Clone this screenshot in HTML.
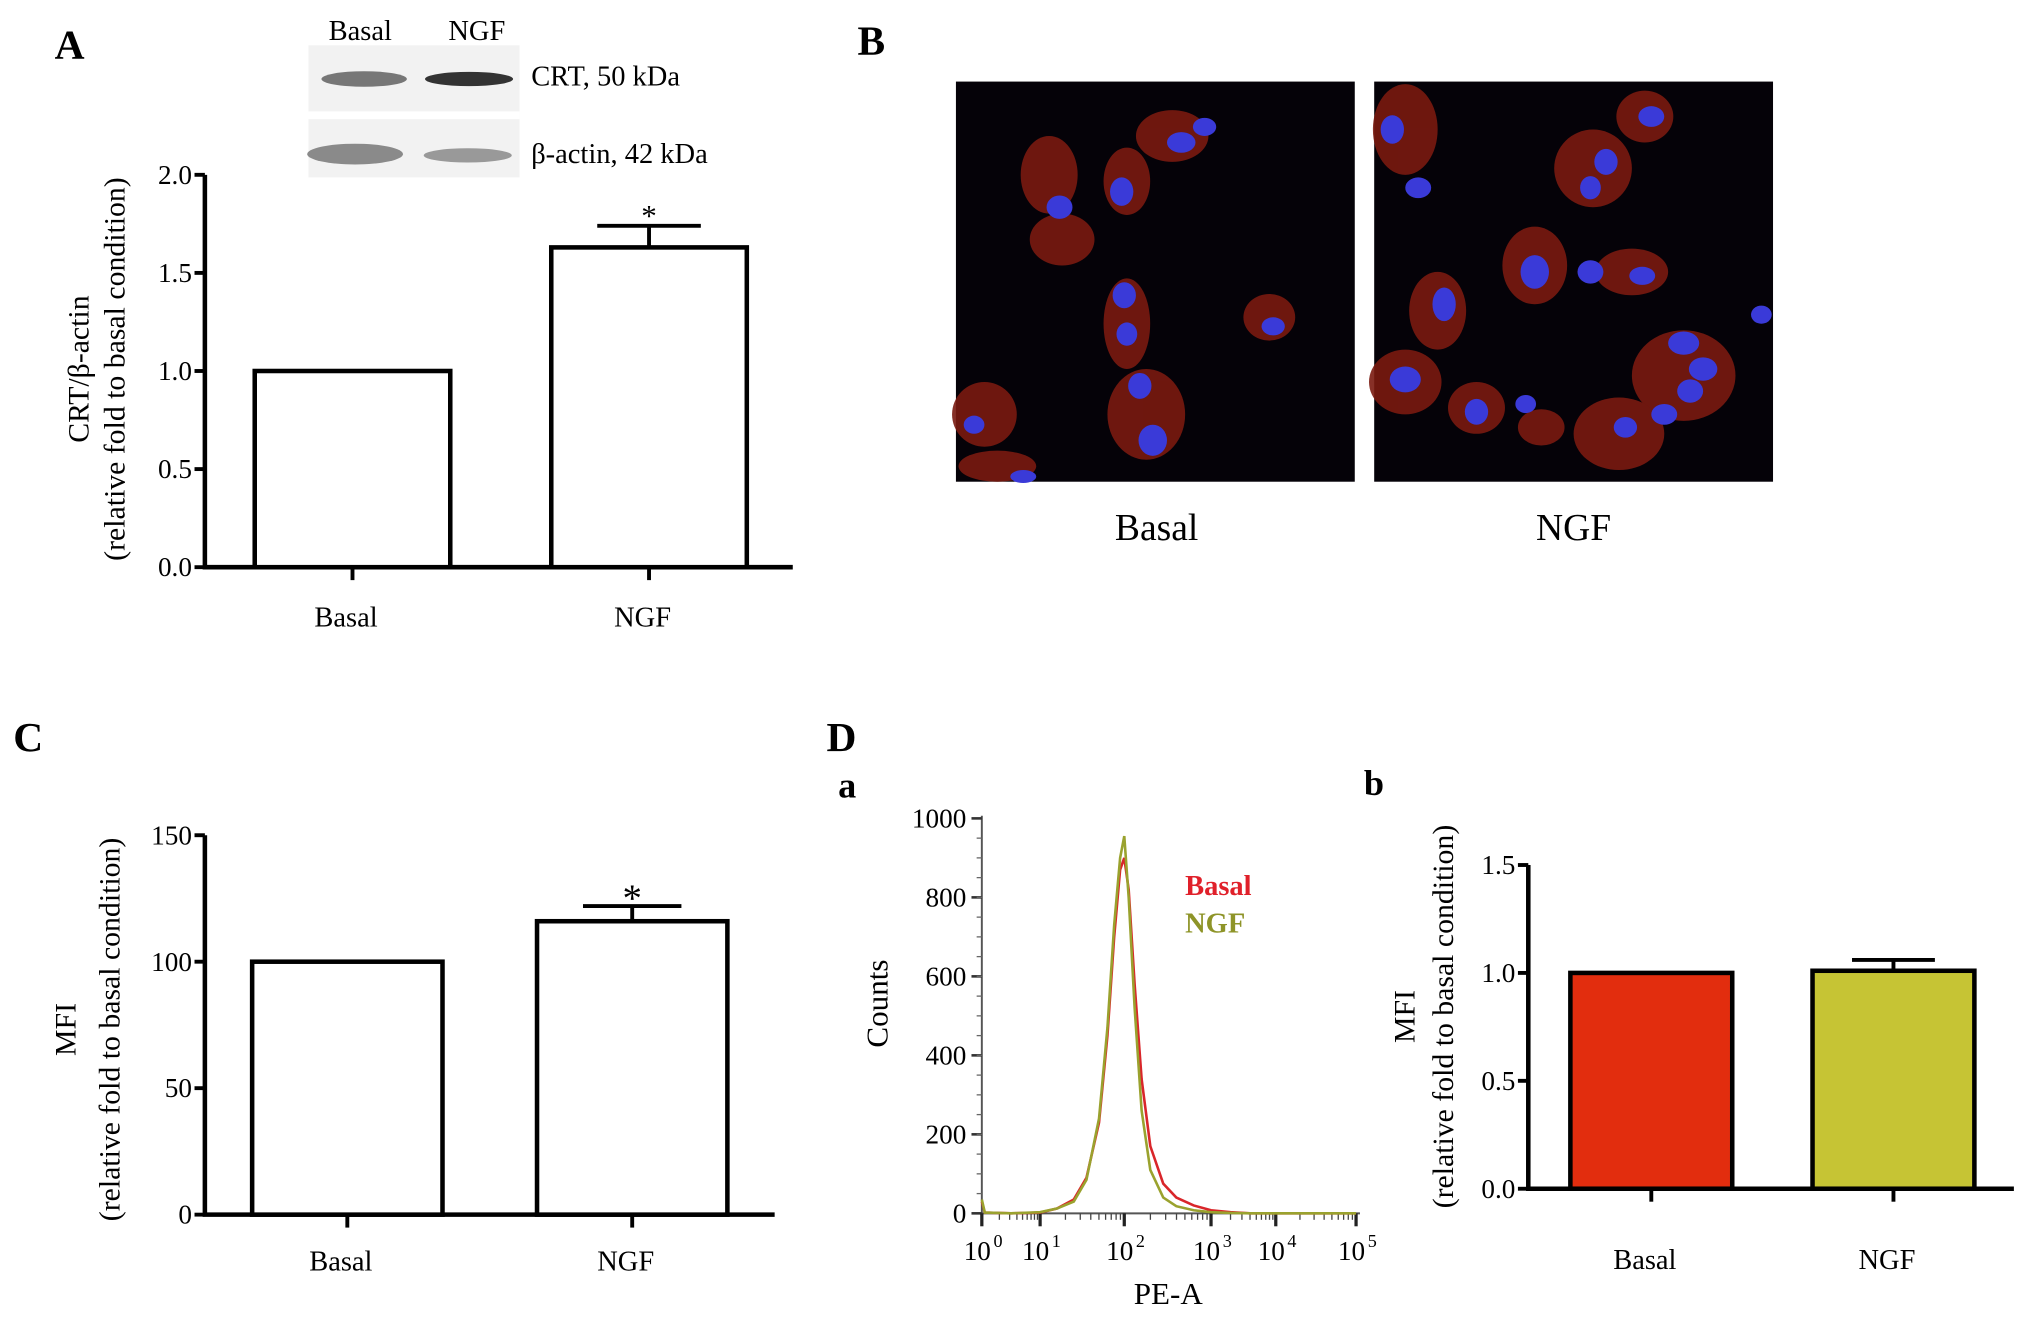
<!DOCTYPE html>
<html><head><meta charset="utf-8"><style>
html,body{margin:0;padding:0;background:#fff;}
svg, svg text{font-family:"Liberation Serif","Times New Roman",serif;}
</style></head><body>
<svg id="fig" width="2031" height="1326" viewBox="0 0 1568 1024" xmlns="http://www.w3.org/2000/svg" font-family="Liberation Serif, serif">
<rect width="1568" height="1024" fill="#fff"/>
<text x="42" y="45" font-size="32" font-weight="bold">A</text>
<text x="662" y="42" font-size="32" font-weight="bold">B</text>
<text x="10" y="580" font-size="32" font-weight="bold">C</text>
<text x="638" y="580" font-size="32" font-weight="bold">D</text>
<text x="647" y="616" font-size="28" font-weight="bold">a</text>
<text x="1053" y="614" font-size="28" font-weight="bold">b</text>

<g>
<rect x="238" y="35" width="163" height="102" fill="#f2f2f2"/>
<rect x="238" y="86" width="163" height="6" fill="#fff"/>
<text x="278" y="31" font-size="22" text-anchor="middle">Basal</text>
<text x="368" y="31" font-size="22" text-anchor="middle">NGF</text>
<ellipse cx="281" cy="61" rx="33" ry="6" fill="#777"/>
<ellipse cx="362" cy="61" rx="34" ry="5.5" fill="#333"/>
<ellipse cx="274" cy="119" rx="37" ry="8" fill="#8a8a8a"/>
<ellipse cx="361" cy="120" rx="34" ry="5.5" fill="#999"/>
<text x="410" y="66" font-size="22">CRT, 50 kDa</text>
<text x="410" y="126" font-size="22">β-actin, 42 kDa</text>
</g>

<g id="chartA"></g>
<g id="chartC"></g>
<g id="chartDb"></g>
<g id="hist"></g>

<g>
<rect x="738" y="63" width="308" height="309" fill="#050208"/>
<g fill="#7a1a10" opacity="0.9">
<ellipse cx="810" cy="135" rx="22" ry="30"/><ellipse cx="870" cy="140" rx="18" ry="26"/><ellipse cx="905" cy="105" rx="28" ry="20"/>
<ellipse cx="820" cy="185" rx="25" ry="20"/><ellipse cx="870" cy="250" rx="18" ry="35"/><ellipse cx="885" cy="320" rx="30" ry="35"/>
<ellipse cx="760" cy="320" rx="25" ry="25"/><ellipse cx="980" cy="245" rx="20" ry="18"/><ellipse cx="770" cy="360" rx="30" ry="12"/>
</g>
<g fill="#3a3ad8">
<ellipse cx="818" cy="160" rx="10" ry="9"/><ellipse cx="866" cy="148" rx="9" ry="11"/><ellipse cx="912" cy="110" rx="11" ry="8"/><ellipse cx="930" cy="98" rx="9" ry="7"/>
<ellipse cx="868" cy="228" rx="9" ry="10"/><ellipse cx="870" cy="258" rx="8" ry="9"/><ellipse cx="880" cy="298" rx="9" ry="10"/><ellipse cx="890" cy="340" rx="11" ry="12"/>
<ellipse cx="983" cy="252" rx="9" ry="7"/><ellipse cx="752" cy="328" rx="8" ry="7"/><ellipse cx="790" cy="368" rx="10" ry="5"/>
</g></g>
<g>
<rect x="1061" y="63" width="308" height="309" fill="#050208"/>
<g fill="#7a1a10" opacity="0.9">
<ellipse cx="1085" cy="100" rx="25" ry="35"/><ellipse cx="1230" cy="130" rx="30" ry="30"/><ellipse cx="1270" cy="90" rx="22" ry="20"/>
<ellipse cx="1185" cy="205" rx="25" ry="30"/><ellipse cx="1260" cy="210" rx="28" ry="18"/><ellipse cx="1110" cy="240" rx="22" ry="30"/>
<ellipse cx="1085" cy="295" rx="28" ry="25"/><ellipse cx="1140" cy="315" rx="22" ry="20"/><ellipse cx="1300" cy="290" rx="40" ry="35"/>
<ellipse cx="1250" cy="335" rx="35" ry="28"/><ellipse cx="1190" cy="330" rx="18" ry="14"/>
</g>
<g fill="#3a3ad8">
<ellipse cx="1075" cy="100" rx="9" ry="11"/><ellipse cx="1095" cy="145" rx="10" ry="8"/><ellipse cx="1240" cy="125" rx="9" ry="10"/><ellipse cx="1228" cy="145" rx="8" ry="9"/>
<ellipse cx="1275" cy="90" rx="10" ry="8"/><ellipse cx="1185" cy="210" rx="11" ry="13"/><ellipse cx="1228" cy="210" rx="10" ry="9"/><ellipse cx="1268" cy="213" rx="10" ry="7"/>
<ellipse cx="1115" cy="235" rx="9" ry="13"/><ellipse cx="1085" cy="293" rx="12" ry="10"/><ellipse cx="1140" cy="318" rx="9" ry="10"/><ellipse cx="1178" cy="312" rx="8" ry="7"/>
<ellipse cx="1300" cy="265" rx="12" ry="9"/><ellipse cx="1315" cy="285" rx="11" ry="9"/><ellipse cx="1305" cy="302" rx="10" ry="9"/><ellipse cx="1255" cy="330" rx="9" ry="8"/>
<ellipse cx="1360" cy="243" rx="8" ry="7"/><ellipse cx="1285" cy="320" rx="10" ry="8"/>
</g></g>
<text x="893" y="417" font-size="29" text-anchor="middle">Basal</text>
<text x="1215" y="417" font-size="29" text-anchor="middle">NGF</text>
</svg>
<script>
const categories = ["Basal", "NGF"];
const crtValues = [1.0, 1.63];
const crtErrors = [0, 0.11];
const crtTicks = ["0.0", "0.5", "1.0", "1.5", "2.0"];
const mfiValues = [100, 116];
const mfiErrors = [0, 6];
const mfiTicks = ["0", "50", "100", "150"];
const mfi2Values = [1.0, 1.01];
const mfi2Errors = [0, 0.05];
const mfi2Ticks = ["0.0", "0.5", "1.0", "1.5"];
const histLog = [0, 0.05, 0.5, 1, 1.2, 1.4, 1.55, 1.7, 1.8, 1.88, 1.95, 2.0, 2.05, 2.12, 2.2, 2.3, 2.45, 2.6, 2.8, 3.0, 3.3, 3.6, 4, 5];
const histBasal = [30, 2, 0, 2, 12, 35, 90, 230, 450, 700, 870, 900, 820, 580, 340, 170, 75, 40, 20, 8, 3, 0, 0, 0];
const histNgf = [35, 2, 0, 3, 12, 30, 85, 240, 470, 730, 900, 955, 800, 520, 260, 110, 40, 18, 8, 3, 1, 0, 0, 0];
const histTicks = ["0", "200", "400", "600", "800", "1000"];
const decadeLabels = ["0", "1", "2", "3", "4", "5"];

const NS = "http://www.w3.org/2000/svg";
function mk(parent, tag, attrs, text) {
  const e = document.createElementNS(NS, tag);
  for (const k in attrs) e.setAttribute(k, attrs[k]);
  if (tag === "text") e.setAttribute("font-family", "Liberation Serif, serif");
  if (text !== undefined) e.textContent = text;
  parent.appendChild(e);
  return e;
}

function barChart(g, cfg) {
  const y = v => cfg.y0 - (v / cfg.max) * (cfg.y0 - cfg.yTop);
  const ax = mk(g, "path", {d: `M${cfg.x0},${cfg.yTop} V${cfg.y0} H${cfg.xEnd}`, stroke: "#000", "stroke-width": 3.5, fill: "none"});
  
  
  cfg.ticks.forEach((t) => {
    const v = parseFloat(t);
    const ty = y(v);
    mk(g, "line", {x1: cfg.x0 - 8, x2: cfg.x0, y1: ty, y2: ty, stroke: "#000", "stroke-width": 3});
    const tl = mk(g, "text", {x: cfg.x0 - 10, y: ty + 7, "font-size": 21, "text-anchor": "end"}, t);
    
    
  });
  categories.forEach((c, i) => {
    const cx = cfg.centers[i];
    const top = y(cfg.values[i]);
    const b = mk(g, "rect", {x: cx - cfg.bw / 2, y: top, width: cfg.bw, height: cfg.y0 - top, fill: cfg.fills[i], stroke: "#000", "stroke-width": 3.5});
    
    
    if (cfg.errors[i] > 0) {
      const ey = y(cfg.values[i] + cfg.errors[i]);
      mk(g, "path", {d: `M${cx},${top} V${ey} M${cx - cfg.cap},${ey} H${cx + cfg.cap}`, stroke: "#000", "stroke-width": 3, fill: "none"});
      if (cfg.star) {
        const s = mk(g, "text", {x: cx, y: ey - cfg.starGap, "font-size": cfg.starSize, "text-anchor": "middle"}, "*");
        
        
      }
    }
    mk(g, "line", {x1: cx, x2: cx, y1: cfg.y0, y2: cfg.y0 + 10, stroke: "#000", "stroke-width": 3});
    const xl = mk(g, "text", {x: cx - 5, y: cfg.labelY, "font-size": 22, "text-anchor": "middle"}, c);
    
    
  });
  cfg.title.forEach((t, k) => {
    const tx = cfg.titleX[k];
    const tt = mk(g, "text", {x: tx, y: cfg.titleY, "font-size": 23, "text-anchor": "middle", transform: `rotate(-90 ${tx} ${cfg.titleY})`}, t);
    
    
  });
}

barChart(document.getElementById("chartA"), {x0: 158, xEnd: 612, y0: 438, yTop: 135, max: 2, ticks: crtTicks,
  centers: [272, 501], bw: 151, values: crtValues, errors: crtErrors, fills: ["#fff", "#fff"], cap: 40,
  star: true, starGap: 0, starSize: 24, labelY: 484, title: ["CRT/β-actin", "(relative fold to basal condition)"], titleX: [68, 96], titleY: 285});
barChart(document.getElementById("chartC"), {x0: 158, xEnd: 598, y0: 938, yTop: 645, max: 150, ticks: mfiTicks,
  centers: [268, 488], bw: 147, values: mfiValues, errors: mfiErrors, fills: ["#fff", "#fff"], cap: 38,
  star: true, starGap: -4, starSize: 30, labelY: 981, title: ["MFI", "(relative fold to basal condition)"], titleX: [58, 92], titleY: 795});
barChart(document.getElementById("chartDb"), {x0: 1180, xEnd: 1555, y0: 918, yTop: 668, max: 1.5, ticks: mfi2Ticks,
  centers: [1275, 1462], bw: 125, values: mfi2Values, errors: mfi2Errors, fills: ["#e22d0e", "#c6c434"], cap: 32,
  star: false, labelY: 980, title: ["MFI", "(relative fold to basal condition)"], titleX: [1092, 1122], titleY: 785});

(function () {
  const g = document.getElementById("hist");
  const x0 = 758, xEnd = 1050, y0 = 937, yTop = 632;
  const decX = [758, 803, 868, 935, 985, 1047];
  const xs = v => { const i = Math.min(4, Math.floor(v)); return decX[i] + (v - i) * (decX[i + 1] - decX[i]); };
  const ys = c => y0 - c / 1000 * (y0 - yTop);
  mk(g, "path", {d: `M${x0},${yTop - 2} V${y0} H${xEnd}`, stroke: "#555", "stroke-width": 1.5, fill: "none"});
  histTicks.forEach(t => {
    const ty = ys(+t);
    mk(g, "line", {x1: x0 - 8, x2: x0, y1: ty, y2: ty, stroke: "#333", "stroke-width": 2});
    const tl = mk(g, "text", {x: x0 - 12, y: ty + 7, "font-size": 21, "text-anchor": "end"}, t);
    
    
  });
  for (let k = 1; k < 20; k++) { const ty = ys(k * 50); mk(g, "line", {x1: x0 - 4, x2: x0, y1: ty, y2: ty, stroke: "#666", "stroke-width": 1}); }
  decadeLabels.forEach((d, i) => {
    const tx = decX[i];
    mk(g, "line", {x1: tx, x2: tx, y1: y0, y2: y0 + 10, stroke: "#222", "stroke-width": 2.5});
    if (i < 5) for (let m = 2; m < 10; m++) { const mx = xs(i + Math.log10(m)); mk(g, "line", {x1: mx, x2: mx, y1: y0, y2: y0 + 5, stroke: "#444", "stroke-width": 1}); }
    const tl = mk(g, "text", {x: tx - 14, y: 973, "font-size": 21}, "10");
    
    
    mk(g, "text", {x: tx + 9, y: 963, "font-size": 14}, d);
  });
  [[histBasal, "#d9262a", "basal"], [histNgf, "#9aa22e", "ngf"]].forEach(([arr, col, nm]) => {
    const d = histLog.map((v, i) => (i ? "L" : "M") + xs(v).toFixed(1) + "," + ys(arr[i]).toFixed(1)).join(" ");
    const p = mk(g, "path", {d: d, stroke: col, "stroke-width": 2, fill: "none"});
    
    
  });
  const l1 = mk(g, "text", {x: 915, y: 691, "font-size": 22, "font-weight": "bold", fill: "#e0202a"}, "Basal");
  
  
  const l2 = mk(g, "text", {x: 915, y: 720, "font-size": 22, "font-weight": "bold", fill: "#8e9428"}, "NGF");
  
  
  const xt = mk(g, "text", {x: 902, y: 1007, "font-size": 24, "text-anchor": "middle"}, "PE-A");
  
  
  const yt = mk(g, "text", {x: 685, y: 775, "font-size": 24, "text-anchor": "middle", transform: "rotate(-90 685 775)"}, "Counts");
  
  
})();
</script>
</body></html>
